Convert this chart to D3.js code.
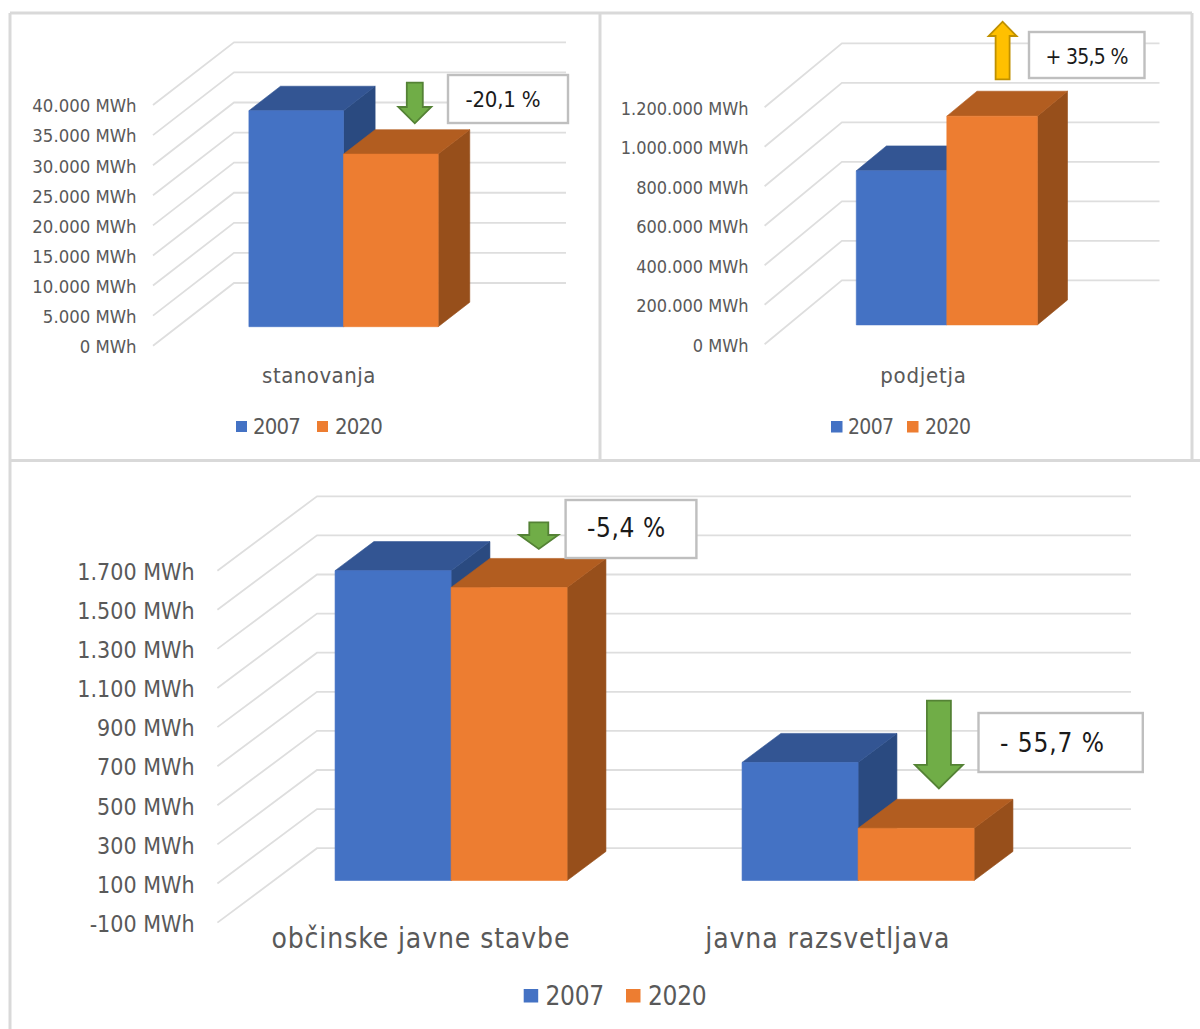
<!DOCTYPE html>
<html>
<head>
<meta charset="utf-8">
<script src="https://cdn.jsdelivr.net/npm/d3@7/dist/d3.min.js"></script>
<style>
  html, body { margin: 0; padding: 0; background: #fff; }
  svg { display: block; }
  text { font-family: "DejaVu Sans Condensed", "DejaVu Sans", sans-serif; }
</style>
</head>
<body>
<svg id="chart" width="1200" height="1029"></svg>
<script>
// Final energy use by sector, 2007 against 2020 (MWh).
const years = ["2007", "2020"];
const yearColors = ["#4472c4", "#ed7d31"];
const topColors = ["#335593", "#b25d20"];
const sideColors = ["#2a4a80", "#974f1b"];

const housingCategories = ["stanovanja"];
const housing2007 = [35900];
const housing2020 = [28680];
const housingTicks = [0, 5000, 10000, 15000, 20000, 25000, 30000, 35000, 40000];

const businessCategories = ["podjetja"];
const business2007 = [780000];
const business2020 = [1056900];
const businessTicks = [0, 200000, 400000, 600000, 800000, 1000000, 1200000];

const publicCategories = ["občinske javne stavbe", "javna razsvetljava"];
const public2007 = [1585, 604];
const public2020 = [1499, 267];
const publicTicks = [-100, 100, 300, 500, 700, 900, 1100, 1300, 1500, 1700];

const locale = d3.formatLocale({ decimal: ",", thousands: ".", grouping: [3], currency: ["", ""] });
const fmt = locale.format(",d");
const svg = d3.select("#chart");
const polyline = d3.line();

// Bars sit at a fixed share of the floor depth, as in a clustered 3-D column.
const BAR_DEPTH_START = 0.303;
const BAR_DEPTH_SPAN = 0.39;

function drawPanel(cfg) {
  const g = svg.append("g");
  const y = d3.scaleLinear().domain(d3.extent(cfg.ticks)).range(cfg.yRange);
  const x0 = d3.scaleBand().domain(cfg.categories).range([0, cfg.width]);
  const x1 = d3.scaleBand().domain(years).range([0, x0.bandwidth()]).paddingOuter(0.754);

  // Wall and floor gridlines
  g.append("g").selectAll("path").data(cfg.ticks).join("path")
    .attr("fill", "none").attr("stroke", "#dedede").attr("stroke-width", 1.8)
    .attr("d", t => polyline([
      [cfg.frontX, y(t)],
      [cfg.frontX + cfg.dx, y(t) - cfg.dy],
      [cfg.frontX + cfg.dx + cfg.width, y(t) - cfg.dy]
    ]));

  // Value axis labels
  g.append("g").selectAll("text").data(cfg.ticks).join("text")
    .attr("x", cfg.frontX - cfg.labelGap)
    .attr("y", t => y(t))
    .attr("dy", "0.4em")
    .attr("text-anchor", "end")
    .attr("fill", "#595959")
    .attr("font-size", cfg.tickSize)
    .text(t => `${fmt(t).replace("−", "-")} MWh`);

  // Columns: side and top faces first, the front face over them
  const rows = cfg.categories.flatMap((c, i) =>
    years.map((yr, s) => ({ c, s, yr, v: cfg.series[s][i] })));
  const base = Math.max(y.domain()[0], 0);
  const faces = g.append("g").selectAll("g").data(rows).join("g");
  const near = cfg.dx * BAR_DEPTH_START, nearY = cfg.dy * BAR_DEPTH_START;
  const far = cfg.dx * BAR_DEPTH_SPAN, farY = cfg.dy * BAR_DEPTH_SPAN;
  const left = d => cfg.frontX + near + x0(d.c) + x1(d.yr);
  const right = d => left(d) + x1.bandwidth();
  const topY = d => y(d.v) - nearY;
  const botY = () => y(base) - nearY;

  faces.append("path")
    .attr("fill", d => sideColors[d.s]).attr("stroke", d => sideColors[d.s]).attr("stroke-width", 0.6)
    .attr("d", d => polyline([
      [right(d), topY(d)], [right(d) + far, topY(d) - farY],
      [right(d) + far, botY() - farY], [right(d), botY()]
    ]) + "Z");
  faces.append("path")
    .attr("fill", d => topColors[d.s]).attr("stroke", d => topColors[d.s]).attr("stroke-width", 0.6)
    .attr("d", d => polyline([
      [left(d), topY(d)], [left(d) + far, topY(d) - farY],
      [right(d) + far, topY(d) - farY], [right(d), topY(d)]
    ]) + "Z");
  faces.append("path")
    .attr("fill", d => yearColors[d.s]).attr("stroke", d => yearColors[d.s]).attr("stroke-width", 0.6)
    .attr("d", d => polyline([
      [left(d), topY(d)], [right(d), topY(d)], [right(d), botY()], [left(d), botY()]
    ]) + "Z");

  // Category labels are centred under the front edge of each band
  g.append("g").selectAll("text").data(cfg.categories).join("text")
    .attr("x", c => cfg.frontX + x0(c) + x0.bandwidth() / 2)
    .attr("y", cfg.categoryY)
    .attr("text-anchor", "middle")
    .attr("fill", "#595959")
    .attr("font-size", cfg.categorySize)
    .attr("letter-spacing", cfg.categorySpacing)
    .text(c => c);

  // Legend
  const leg = g.append("g").selectAll("g").data(years).join("g");
  leg.append("rect")
    .attr("x", (d, i) => cfg.legend.swatchX[i]).attr("y", cfg.legend.swatchY)
    .attr("width", cfg.legend.swatch).attr("height", cfg.legend.swatchH)
    .attr("fill", (d, i) => yearColors[i]);
  leg.append("text")
    .attr("x", (d, i) => cfg.legend.textX[i]).attr("y", cfg.legend.baseline)
    .attr("fill", "#595959").attr("font-size", cfg.legend.size)
    .attr("letter-spacing", cfg.legend.spacing)
    .text(d => d);
}

// Block arrow; the head is drawn at `tipY`, the shaft ends at `tailY`
function drawArrow(a) {
  const hs = a.shaft / 2, hh = a.head / 2;
  const pts = [
    [a.x - hs, a.tailY], [a.x + hs, a.tailY], [a.x + hs, a.neckY], [a.x + hh, a.neckY],
    [a.x, a.tipY], [a.x - hh, a.neckY], [a.x - hs, a.neckY]
  ];
  svg.append("path").attr("d", polyline(pts) + "Z")
    .attr("fill", a.fill).attr("stroke", a.stroke).attr("stroke-width", 1.8)
    .attr("stroke-linejoin", "miter");
}

function drawCallout(c) {
  svg.append("rect")
    .attr("x", c.x).attr("y", c.y).attr("width", c.w).attr("height", c.h)
    .attr("fill", "#fff").attr("stroke", "#bfbfbf").attr("stroke-width", 2.4);
  svg.append("text")
    .attr("x", c.textX).attr("y", c.baseline)
    .attr("fill", "#1a1a1a").attr("font-size", c.size)
    .attr("letter-spacing", c.spacing)
    .text(c.label);
}

// Panel frames
const frames = [
  [[10, 13], [1192, 13]],
  [[10, 13], [10, 1029]],
  [[600, 13], [600, 460]],
  [[1192, 13], [1192, 460]],
  [[10, 460.5], [1200, 460.5]]
];
svg.append("g").selectAll("path").data(frames).join("path")
  .attr("d", d => polyline(d))
  .attr("fill", "none").attr("stroke", "#d9d9d9").attr("stroke-width", 3);

drawPanel({
  categories: housingCategories, series: [housing2007, housing2020], ticks: housingTicks,
  frontX: 153, width: 332, dx: 81, dy: 62.7, yRange: [345.7, 105],
  labelGap: 16.4, tickSize: 18.4, categoryY: 383, categorySize: 22, categorySpacing: 0.5,
  legend: { swatchX: [236, 317], swatchY: 421, swatch: 11, swatchH: 11, textX: [253, 335], baseline: 434, size: 22, spacing: -0.8 }
});
drawPanel({
  categories: businessCategories, series: [business2007, business2020], ticks: businessTicks,
  frontX: 764.6, width: 317.6, dx: 77.3, dy: 64, yRange: [344.3, 107.3],
  labelGap: 16.1, tickSize: 18, categoryY: 383, categorySize: 22, categorySpacing: 0.75,
  legend: { swatchX: [831, 907], swatchY: 421, swatch: 11.5, swatchH: 11.5, textX: [848, 925], baseline: 434, size: 21, spacing: -0.7 }
});
drawPanel({
  categories: publicCategories, series: [public2007, public2020], ticks: publicTicks,
  frontX: 217.4, width: 814, dx: 99.6, dy: 74.4, yRange: [922.6, 570.7],
  labelGap: 22.8, tickSize: 23, categoryY: 948, categorySize: 28, categorySpacing: 0.9,
  legend: { swatchX: [523.7, 626], swatchY: 989, swatch: 14.5, swatchH: 13.5, textX: [545.5, 648], baseline: 1005, size: 26, spacing: -0.3 }
});

const green = { fill: "#70ad47", stroke: "#548235" };
drawCallout({ x: 448, y: 75, w: 120, h: 48, textX: 465.5, baseline: 106.5, size: 22, spacing: -0.2, label: "-20,1 %" });
drawArrow({ ...green, x: 414.8, shaft: 16, head: 33, tailY: 82.7, neckY: 107, tipY: 123.3 });

drawCallout({ x: 1029, y: 32, w: 115.5, h: 46, textX: 1045.5, baseline: 63.5, size: 21, spacing: -0.7, label: "+ 35,5 %" });
drawArrow({ fill: "#ffc000", stroke: "#bf9000", x: 1002.6, shaft: 14, head: 28, tailY: 79.3, neckY: 36, tipY: 21.7 });

drawCallout({ x: 565.6, y: 500, w: 130.8, h: 58, textX: 587, baseline: 537, size: 26, spacing: 0.6, label: "-5,4 %" });
drawArrow({ ...green, x: 538.8, shaft: 19, head: 39, tailY: 522.4, neckY: 535, tipY: 549 });

drawCallout({ x: 978.5, y: 713, w: 164.3, h: 59, textX: 1000, baseline: 752, size: 26, spacing: 0.9, label: "- 55,7 %" });
drawArrow({ ...green, x: 938.9, shaft: 24, head: 48, tailY: 700.6, neckY: 764.8, tipY: 788.4 });
</script>
</body>
</html>
